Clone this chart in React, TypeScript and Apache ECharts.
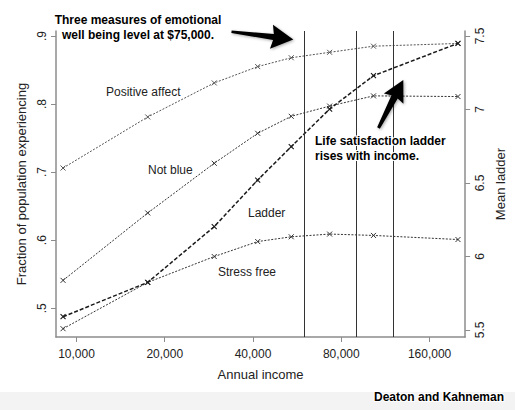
import React, { useEffect, useRef } from 'react';
import * as echarts from 'echarts';

const incomes = [9000, 17500, 29500, 41500, 54000, 73000, 103000, 200000];
const positiveAffect = [0.706, 0.781, 0.831, 0.855, 0.868, 0.876, 0.885, 0.889];
const notBlue = [0.541, 0.64, 0.713, 0.757, 0.782, 0.797, 0.812, 0.811];
const stressFree = [0.47, 0.538, 0.576, 0.598, 0.605, 0.609, 0.607, 0.601];
const ladder = [5.59, 5.824, 6.203, 6.52, 6.747, 7.003, 7.23, 7.45];
const xTicks = [10000, 20000, 40000, 80000, 160000];
const leftTicks = [0.5, 0.6, 0.7, 0.8, 0.9];
const rightTicks = [5.5, 6, 6.5, 7, 7.5];
const thresholds = [60000, 90000, 120000];

const FONT = '"Liberation Sans", Arial, sans-serif';
const X_SYMBOL = 'path://M0,0L10,10M10,0L0,10';

function pairs(ys: number[]) {
  return incomes.map((x, i) => [x, ys[i]]);
}

function arrowPoints(
  tail: number[],
  tip: number[],
  tailW: number,
  shaftW: number,
  headW: number,
  headL: number
) {
  const dx = tip[0] - tail[0];
  const dy = tip[1] - tail[1];
  const L = Math.hypot(dx, dy);
  const ux = dx / L;
  const uy = dy / L;
  const nx = -uy;
  const ny = ux;
  const p = (a: number, b: number) => [tail[0] + ux * a + nx * b, tail[1] + uy * a + ny * b];
  return [
    p(0, -tailW / 2),
    p(L - headL, -shaftW / 2),
    p(L - headL - 2, -headW / 2),
    p(L, 0),
    p(L - headL - 2, headW / 2),
    p(L - headL, shaftW / 2),
    p(0, tailW / 2),
  ];
}

function dotted(name: string, data: number[], color: string) {
  return {
    name,
    type: 'line',
    yAxisIndex: 0,
    data: pairs(data),
    symbol: X_SYMBOL,
    symbolSize: 5,
    lineStyle: { color, width: 1, type: [2, 1.5] },
    itemStyle: { color, borderColor: color, borderWidth: 1 },
    z: 3,
  };
}

export default function App() {
  const ref = useRef<HTMLDivElement>(null);
  useEffect(() => {
    if (!ref.current) return;
    const chart = echarts.init(ref.current, null, { renderer: 'svg' });
    const axisGray = '#8c8c8c';
    const option: any = {
      animation: false,
      backgroundColor: '#ffffff',
      grid: { left: 56, right: 49, top: 31, bottom: 73 },
      xAxis: {
        type: 'log',
        logBase: 10,
        min: 8515,
        max: 211500,
        name: 'Annual income',
        nameLocation: 'middle',
        nameGap: 31,
        nameTextStyle: { fontFamily: FONT, fontSize: 13, color: '#222' },
        axisLine: { show: true, lineStyle: { color: axisGray, width: 1.5 } },
        axisTick: { show: true, length: 5, customValues: xTicks, lineStyle: { color: axisGray } },
        axisLabel: {
          customValues: xTicks,
          margin: 11,
          fontFamily: FONT,
          fontSize: 12,
          color: '#222',
          formatter: (v: number) => Math.round(v).toLocaleString('en-US'),
        },
        splitLine: { show: false },
        minorTick: { show: false },
        minorSplitLine: { show: false },
      },
      yAxis: [
        {
          type: 'value',
          position: 'left',
          min: 0.4578,
          max: 0.9073,
          name: 'Fraction of population experiencing',
          nameLocation: 'middle',
          nameRotate: 90,
          nameGap: 28,
          nameTextStyle: { fontFamily: FONT, fontSize: 13, color: '#222' },
          axisLine: { show: true, lineStyle: { color: axisGray, width: 1.5 } },
          axisTick: { show: true, length: 5, customValues: leftTicks, lineStyle: { color: axisGray } },
          axisLabel: {
            customValues: leftTicks,
            rotate: 90,
            margin: 8,
            fontFamily: FONT,
            fontSize: 12,
            color: '#222',
            formatter: (v: number) => String(Math.round(v * 10) / 10).replace(/^0/, ''),
          },
          splitLine: { show: false },
        },
        {
          type: 'value',
          position: 'right',
          min: 5.452,
          max: 7.534,
          name: 'Mean ladder',
          nameLocation: 'middle',
          nameRotate: 90,
          nameGap: 21,
          nameTextStyle: { fontFamily: FONT, fontSize: 13, color: '#222' },
          axisLine: { show: true, lineStyle: { color: axisGray, width: 1.5 } },
          axisTick: { show: true, length: 5, customValues: rightTicks, lineStyle: { color: axisGray } },
          axisLabel: {
            customValues: rightTicks,
            rotate: 90,
            margin: 9,
            fontFamily: FONT,
            fontSize: 12,
            color: '#222',
            formatter: (v: number) => String(Math.round(v * 10) / 10),
          },
          splitLine: { show: false },
        },
      ],
      series: [
        {
          ...dotted('Positive affect', positiveAffect, '#555'),
          markLine: {
            silent: true,
            symbol: ['none', 'none'],
            label: { show: false },
            lineStyle: { color: '#333', width: 1, type: 'solid' },
            data: thresholds.map((t) => ({ xAxis: t })),
          },
        },
        dotted('Not blue', notBlue, '#333'),
        dotted('Stress free', stressFree, '#333'),
        {
          name: 'Ladder',
          type: 'line',
          yAxisIndex: 1,
          data: pairs(ladder),
          symbol: X_SYMBOL,
          symbolSize: 5,
          lineStyle: { color: '#1a1a1a', width: 1.5, type: [4, 2] },
          itemStyle: { color: '#1a1a1a', borderColor: '#1a1a1a', borderWidth: 1.1 },
          z: 4,
        },
      ],
      graphic: [
        { type: 'rect', z: -1, shape: { x: 0, y: 392, width: 515, height: 18 }, style: { fill: '#f3f3f3' } },
        {
          type: 'text', x: 106, y: 92,
          style: { text: 'Positive affect', fontFamily: FONT, fontSize: 12, fill: '#222', verticalAlign: 'middle' },
        },
        {
          type: 'text', x: 148, y: 170,
          style: { text: 'Not blue', fontFamily: FONT, fontSize: 12, fill: '#222', verticalAlign: 'middle' },
        },
        {
          type: 'text', x: 248, y: 213,
          style: { text: 'Ladder', fontFamily: FONT, fontSize: 12, fill: '#222', verticalAlign: 'middle' },
        },
        {
          type: 'text', x: 218, y: 272,
          style: { text: 'Stress free', fontFamily: FONT, fontSize: 12, fill: '#222', verticalAlign: 'middle' },
        },
        {
          type: 'polygon', z: 10,
          shape: { points: arrowPoints([231.5, 31.7], [293.3, 39.5], 2.5, 6, 24, 20) },
          style: { fill: '#000', shadowBlur: 3, shadowColor: 'rgba(0,0,0,0.35)', shadowOffsetX: 1, shadowOffsetY: 1 },
        },
        {
          type: 'polygon', z: 10,
          shape: { points: arrowPoints([378.5, 128], [403.3, 80], 3, 7, 22, 19) },
          style: { fill: '#000', shadowBlur: 3, shadowColor: 'rgba(0,0,0,0.35)', shadowOffsetX: 1, shadowOffsetY: 1 },
        },
        {
          type: 'text', x: 138, y: 27, z: 11,
          style: {
            text: 'Three measures of emotional\nwell being level at $75,000.',
            fontFamily: FONT, fontSize: 12, fontWeight: 'bold', fill: '#000',
            align: 'center', verticalAlign: 'middle', lineHeight: 15,
            stroke: '#fff', lineWidth: 2,
            shadowBlur: 2, shadowColor: 'rgba(0,0,0,0.4)', shadowOffsetX: 1, shadowOffsetY: 1,
          },
        },
        {
          type: 'text', x: 315, y: 148, z: 11,
          style: {
            text: 'Life satisfaction ladder\nrises with income.',
            fontFamily: FONT, fontSize: 12, fontWeight: 'bold', fill: '#000',
            align: 'left', verticalAlign: 'middle', lineHeight: 15,
            stroke: '#fff', lineWidth: 2,
            shadowBlur: 2, shadowColor: 'rgba(0,0,0,0.4)', shadowOffsetX: 1, shadowOffsetY: 1,
          },
        },
        {
          type: 'text', x: 504, y: 397, z: 11,
          style: {
            text: 'Deaton and Kahneman',
            fontFamily: FONT, fontSize: 12, fontWeight: 'bold', fill: '#000',
            align: 'right', verticalAlign: 'middle',
            stroke: '#fff', lineWidth: 2,
            shadowBlur: 2, shadowColor: 'rgba(0,0,0,0.4)', shadowOffsetX: 1, shadowOffsetY: 1,
          },
        },
      ],
    };
    chart.setOption(option);
    return () => chart.dispose();
  }, []);
  return (
    <div
      ref={ref}
      style={{ position: 'fixed', left: 0, top: 0, width: 515, height: 410, background: '#fff' }}
    />
  );
}
